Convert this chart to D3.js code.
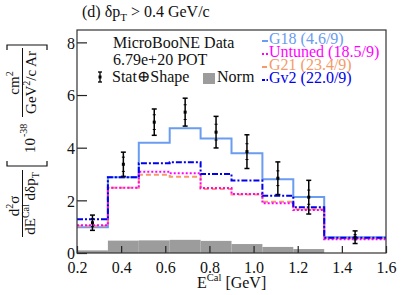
<!DOCTYPE html>
<html><head><meta charset="utf-8">
<script src="https://cdn.jsdelivr.net/npm/d3@7"></script>
<style>body{margin:0;background:#fff}svg{display:block}</style>
</head><body>
<svg id="c" width="407" height="295"></svg>
<script>
const edges = [0.2,0.34,0.48,0.62,0.76,0.90,1.04,1.18,1.32,1.6];
const dataVals = [1.15,3.37,4.97,5.35,4.59,3.85,2.84,2.12,0.60];
const totErr = [0.29,0.46,0.50,0.53,0.60,0.64,0.62,0.64,0.24];
const statErr = [0.15,0.27,0.28,0.28,0.30,0.30,0.28,0.27,0.10];
const g18 = [0.98,2.88,4.19,4.74,4.35,3.79,2.80,2.13,0.60];
const untuned = [1.05,2.48,3.09,3.03,2.47,2.24,1.89,1.63,0.52];
const g21 = [1.03,2.48,2.97,2.90,2.43,2.22,1.95,1.66,0.55];
const gv2 = [1.28,2.88,3.41,3.45,3.00,2.75,2.17,1.74,0.58];
const norm = [0.10,0.47,0.48,0.50,0.46,0.34,0.23,0.15,0.0];
const xTicks = [0.2,0.4,0.6,0.8,1.0,1.2,1.4,1.6];
const yTicks = [0,2,4,6,8];
const models = [
  {name:"G18 (4.6/9)", vals:g18, color:"#6a9cf0", dash:null, ldash:null},
  {name:"G21 (23.4/9)", vals:g21, color:"#f59a68", dash:"5,3", ldash:"5,3"},
  {name:"Untuned (18.5/9)", vals:untuned, color:"#ff00ff", dash:"2,2", ldash:"2,2"},
  {name:"Gv2 (22.0/9)", vals:gv2, color:"#0000ee", dash:"6,2,2,2", ldash:"3,1.5,1.5,1.5"}
];
const legendOrder = ["G18 (4.6/9)","Untuned (18.5/9)","G21 (23.4/9)","Gv2 (22.0/9)"];

const FONT = '"Liberation Serif","Times New Roman",Times,"DejaVu Serif",serif';
const svg = d3.select("#c").style("font-family",FONT);
const L=77,R=386,T=30,B=253;
const x = d3.scaleLinear().domain([0.2,1.6]).range([L,R]);
const y = d3.scaleLinear().domain([0,8.47]).range([B,T]);

// norm bars
svg.append("g").selectAll("rect").data(norm).join("rect")
  .attr("x",(d,i)=>x(edges[i])).attr("width",(d,i)=>x(edges[i+1])-x(edges[i]))
  .attr("y",d=>y(d)).attr("height",d=>y(0)-y(d)).attr("fill","#9c9c9c");

// model step lines
const line = d3.line().x(d=>x(d[0])).y(d=>y(d[1])).curve(d3.curveStepAfter);
models.forEach(m=>{
  const pts = m.vals.map((v,i)=>[edges[i],v]);
  pts.push([edges[edges.length-1], m.vals[m.vals.length-1]]);
  svg.append("path").attr("d",line(pts)).attr("fill","none")
    .attr("stroke",m.color).attr("stroke-width",2)
    .attr("stroke-dasharray",m.dash);
});

// data points
const centers = dataVals.map((v,i)=>(edges[i]+edges[i+1])/2);
const dg = svg.append("g");
dataVals.forEach((v,i)=>{
  const cx = x(centers[i]);
  dg.append("line").attr("x1",cx).attr("x2",cx).attr("y1",y(v+totErr[i])).attr("y2",y(v-totErr[i])).attr("stroke","#000").attr("stroke-width",1.5);
  [v+totErr[i], v-totErr[i]].forEach(e=>dg.append("line").attr("x1",cx-2.5).attr("x2",cx+2.5).attr("y1",y(e)).attr("y2",y(e)).attr("stroke","#000").attr("stroke-width",1.5));
  [v+statErr[i], v-statErr[i]].forEach(e=>dg.append("line").attr("x1",cx-1.5).attr("x2",cx+1.5).attr("y1",y(e)).attr("y2",y(e)).attr("stroke","#000").attr("stroke-width",1));
  dg.append("rect").attr("x",cx-1.5).attr("y",y(v)-1.5).attr("width",3).attr("height",3).attr("fill","#000");
});

// axes
const ax = svg.append("g").attr("transform",`translate(0,${B})`)
  .call(d3.axisBottom(x).tickValues(xTicks).tickSize(-7).tickPadding(0).tickFormat(d3.format(".1f")));
ax.attr("font-family",null).style("font-family",FONT);
ax.select(".domain").remove();
ax.selectAll(".tick line").attr("stroke","#222").attr("stroke-width",1.2);
ax.selectAll(".tick text").attr("font-size",16).attr("fill","#111").attr("dy",null).attr("y",19.5).style("font-family",FONT);
const ay = svg.append("g").attr("transform",`translate(${L},0)`)
  .call(d3.axisLeft(y).tickValues(yTicks).tickSize(-10).tickPadding(0).tickFormat(d3.format("d")));
ay.attr("font-family",null).style("font-family",FONT);
ay.select(".domain").remove();
ay.selectAll(".tick line").attr("stroke","#222").attr("stroke-width",1.2);
ay.selectAll(".tick text").attr("font-size",16).attr("fill","#111").attr("x",-2).attr("dy","0.36em").style("font-family",FONT);
// frame
svg.append("rect").attr("x",L).attr("y",T).attr("width",R-L).attr("height",B-T).attr("fill","none").attr("stroke","#333").attr("stroke-width",1.2);

// title
const tt = svg.append("text").attr("x",82).attr("y",17).attr("font-size",16).attr("fill","#111");
tt.append("tspan").text("(d) δp");
tt.append("tspan").attr("font-size",11).attr("dy",4).text("T");
tt.append("tspan").attr("dy",-4).text(" > 0.4 GeV/c");

// x label
const xl = svg.append("text").attr("x",197).attr("y",288).attr("font-size",16).attr("fill","#111");
xl.append("tspan").text("E");
xl.append("tspan").attr("font-size",10.5).attr("dy",-7).text("Cal");
xl.append("tspan").attr("dy",7).text(" [GeV]");

// y label (rotated)
const yg = svg.append("g").attr("transform","rotate(-90)").attr("fill","#111");
const num1 = yg.append("text").attr("x",-206).attr("y",19).attr("text-anchor","middle").attr("font-size",15);
num1.append("tspan").text("d");
num1.append("tspan").attr("font-size",10).attr("dy",-6).text("2");
num1.append("tspan").attr("dy",6).text("σ");
yg.append("line").attr("x1",-237).attr("x2",-170).attr("y1",22.5).attr("y2",22.5).attr("stroke","#111").attr("stroke-width",1);
const den1 = yg.append("text").attr("x",-203.5).attr("y",35).attr("text-anchor","middle").attr("font-size",15);
den1.append("tspan").text("dE");
den1.append("tspan").attr("font-size",10).attr("dy",-6).text("Cal");
den1.append("tspan").attr("dy",6).text(" dδp");
den1.append("tspan").attr("font-size",10).attr("dy",4).text("T");
function bracket(pos, dir){
  yg.append("path").attr("d",`M${pos+dir*5},7 L${pos},7 L${pos},47 L${pos+dir*5},47`)
    .attr("fill","none").attr("stroke","#111").attr("stroke-width",1.2);
}
bracket(-166, 1);
bracket(-45, -1);
const ten = yg.append("text").attr("x",-153).attr("y",35).attr("font-size",15);
ten.append("tspan").text("10");
ten.append("tspan").attr("font-size",10).attr("dy",-8).attr("dx",1).text("-38");
const num2 = yg.append("text").attr("x",-83).attr("y",19).attr("text-anchor","middle").attr("font-size",15);
num2.append("tspan").text("cm");
num2.append("tspan").attr("font-size",10).attr("dy",-6).text("2");
yg.append("line").attr("x1",-117).attr("x2",-48).attr("y1",22.5).attr("y2",22.5).attr("stroke","#111").attr("stroke-width",1);
const den2 = yg.append("text").attr("x",-82.5).attr("y",36).attr("text-anchor","middle").attr("font-size",15);
den2.append("tspan").text("GeV");
den2.append("tspan").attr("font-size",10).attr("dy",-6).text("2");
den2.append("tspan").attr("dy",6).text("/c Ar");

// left legend
svg.append("text").attr("x",113).attr("y",48).attr("font-size",16).attr("fill","#111").text("MicroBooNE Data");
svg.append("text").attr("x",113).attr("y",65).attr("font-size",16).attr("fill","#111").text("6.79e+20 POT");
svg.append("text").attr("x",112).attr("y",82).attr("font-size",16).attr("fill","#111").text("Stat⊕Shape");
const li = svg.append("g");
li.append("line").attr("x1",100).attr("x2",100).attr("y1",72).attr("y2",82).attr("stroke","#000").attr("stroke-width",1.3);
[72,82].forEach(v=>li.append("line").attr("x1",98).attr("x2",102).attr("y1",v).attr("y2",v).attr("stroke","#000").attr("stroke-width",1.3));
li.append("rect").attr("x",98.5).attr("y",75.5).attr("width",3).attr("height",3).attr("fill","#000");
svg.append("rect").attr("x",203).attr("y",73).attr("width",12).attr("height",11).attr("fill","#9c9c9c");
svg.append("text").attr("x",217).attr("y",82).attr("font-size",16).attr("fill","#111").text("Norm");

// right legend
legendOrder.forEach((n,i)=>{
  const m = models.find(d=>d.name===n);
  const by = 44 + i*13;
  svg.append("line").attr("x1",262).attr("x2",268).attr("y1",by-3).attr("y2",by-3)
    .attr("stroke",m.color).attr("stroke-width",2).attr("stroke-dasharray",m.ldash);
  svg.append("text").attr("x",269).attr("y",by).attr("font-size",16).attr("fill",m.color).text(n);
});
</script>
</body></html>
